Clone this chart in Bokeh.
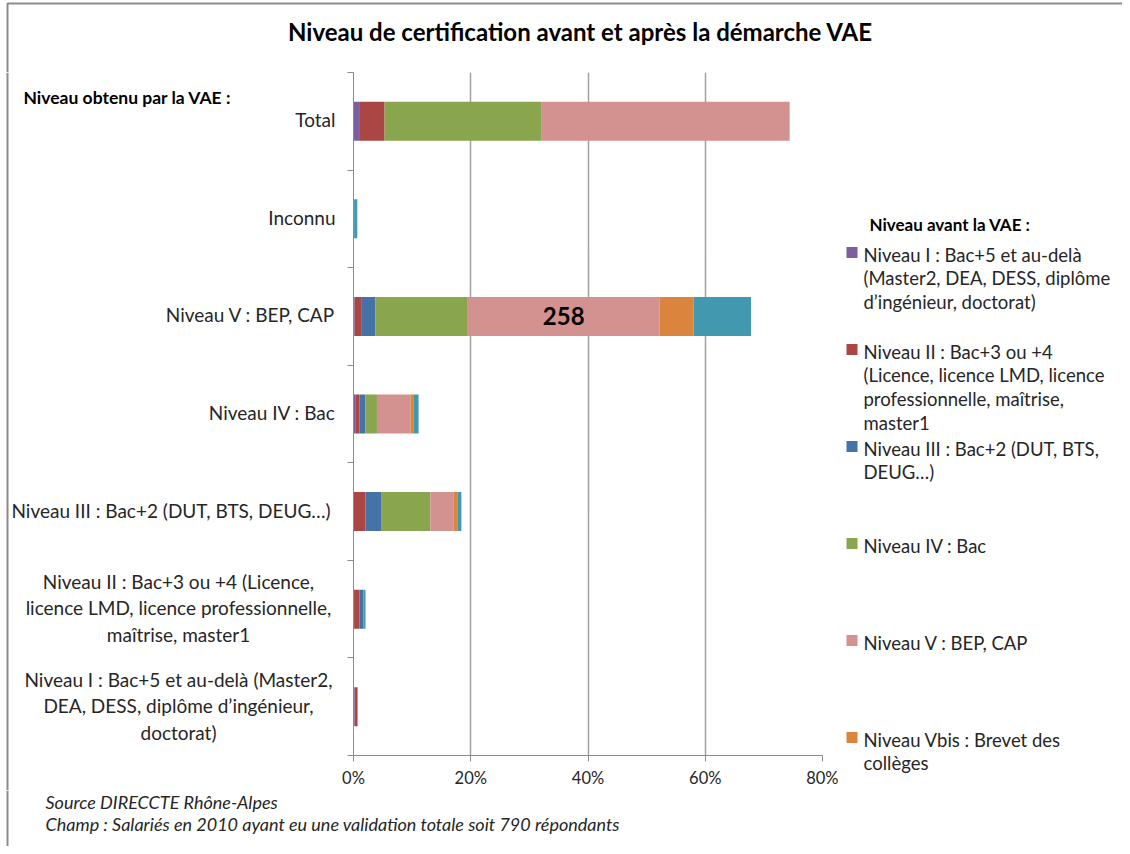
from bokeh.plotting import figure
from bokeh.layouts import column, row
from bokeh.models import (Range1d, LinearAxis, FixedTicker, PrintfTickFormatter,
                          ColumnDataSource)
from bokeh.core.properties import value
from bokeh.embed import file_html
from bokeh.resources import INLINE

# ---------------- data ----------------
title_text = "Niveau de certification avant et après la démarche VAE"
y_title = "Niveau obtenu par la VAE :"
legend_title = "Niveau avant la VAE :"
footnotes = ["Source DIRECCTE Rhône-Alpes",
             "Champ : Salariés en 2010 ayant eu une validation totale soit 790 répondants"]

# categories, top to bottom as displayed
categories = [
    "Total",
    "Inconnu",
    "Niveau V : BEP, CAP",
    "Niveau IV : Bac",
    "Niveau III : Bac+2  (DUT, BTS, DEUG…)",
    "Niveau II : Bac+3 ou +4 (Licence,\nlicence LMD, licence professionnelle,\nmaîtrise, master1",
    "Niveau I : Bac+5 et au-delà (Master2,\nDEA, DESS, diplôme d’ingénieur,\ndoctorat)",
]

# share of respondents (%) by level before the VAE, aligned with categories
niv1 = [1.1, 0.0, 0.2, 0.3, 0.0, 0.1, 0.2]
niv2 = [4.2, 0.0, 1.1, 0.7, 2.05, 0.9, 0.5]
niv3 = [0.0, 0.1, 2.45, 1.0, 2.65, 0.7, 0.0]
niv4 = [26.7, 0.0, 15.75, 2.0, 8.4, 0.0, 0.0]
niv5 = [42.4, 0.0, 32.7, 5.7, 3.95, 0.0, 0.0]
niv5bis = [0.0, 0.0, 5.8, 0.5, 0.75, 0.0, 0.0]
niv6 = [0.0, 0.55, 9.8, 0.9, 0.6, 0.35, 0.0]

series_keys = ["niv1", "niv2", "niv3", "niv4", "niv5", "niv5bis", "niv6"]
series_labels = [
    "Niveau I : Bac+5 et au-delà\n(Master2, DEA, DESS, diplôme\nd’ingénieur, doctorat)",
    "Niveau II : Bac+3 ou +4\n(Licence, licence LMD, licence\nprofessionnelle, maîtrise,\nmaster1",
    "Niveau III : Bac+2  (DUT, BTS,\nDEUG…)",
    "Niveau IV : Bac",
    "Niveau V : BEP, CAP",
    "Niveau Vbis : Brevet des\ncollèges",
]
colors = ["#7D5FA0", "#AA4643", "#4572A7", "#89A54E", "#D39290", "#DB843D", "#4198AF"]

annot_value = 258
annot_category = "Niveau V : BEP, CAP"
annot_series = "niv5"

x_ticks = [0, 20, 40, 60, 80]

# ---------------- layout (page pixels) ----------------
W, H = 1122, 846
FL, FR, FT, FB = 353, 822, 72, 756     # plot frame
LW = 340                               # width of the category-label column
ROW_B = 790                            # bottom of the middle row
GX = 838                               # left edge of the legend column
N = len(categories)
XMAX = x_ticks[-1]
FONT = value("Lato")
TXT = "#262626"
BORDER = "#8c8c8c"


def Y(py):
    return (FB - py) / (FB - FT) * N


def blank(x0, y0, x1, y1, y_range=None):
    f = figure(width=x1 - x0, height=y1 - y0, output_backend="svg", toolbar_location=None,
               x_range=Range1d(x0, x1), y_range=y_range or Range1d(y1, y0),
               x_axis_location=None, y_axis_location=None, min_border=0,
               frame_align=False)
    f.outline_line_color = None
    f.grid.visible = False
    f.background_fill_color = "white"
    f.border_fill_color = "white"
    return f


ypos = [N - i - 0.5 for i in range(N)]
lift = 2 * N / (FB - FT)   # 2px optical lift for the category labels

# ---- title strip ----
top = blank(0, 0, W, FT)
top.text(x=[580], y=[31], text=[title_text], text_align="center", text_baseline="middle",
         text_font=FONT, text_font_size="24px", text_font_style="bold", text_color="#000000")
top.line(x=[7, 7, W], y=[FT, 3, 3], line_color=BORDER, line_width=2)

# ---- category label column ----
left = blank(0, FT, LW, ROW_B, y_range=Range1d(Y(ROW_B), Y(FT)))
single = [(c, y + lift) for c, y in zip(categories, ypos) if "\n" not in c]
multi = [(c, y + lift) for c, y in zip(categories, ypos) if "\n" in c]
left.text(x=[335] * len(single), y=[y for _, y in single], text=[c for c, _ in single],
          text_align="right", text_baseline="middle", text_font=FONT,
          text_font_size="19px", text_color=TXT)
left.text(x=[178] * len(multi), y=[y for _, y in multi], text=[c for c, _ in multi],
          text_align="center", text_baseline="middle", text_font=FONT,
          text_font_size="19px", text_color=TXT, text_line_height=1.15)
left.text(x=[23], y=[Y(97)], text=[y_title], text_align="left", text_baseline="middle",
          text_font=FONT, text_font_size="17.5px", text_font_style="bold", text_color="#000000")
left.line(x=[7, 7], y=[Y(ROW_B), Y(FT)], line_color=BORDER, line_width=2)

# ---- main chart ----
p = figure(width=GX - LW, height=ROW_B - FT, output_backend="svg", toolbar_location=None,
           x_range=Range1d(0, XMAX), y_range=Range1d(0, N), y_axis_location=None,
           min_border_left=FL - LW, min_border_right=GX - FR,
           min_border_top=0, min_border_bottom=ROW_B - FB, frame_align=False)
p.outline_line_color = None
p.background_fill_color = "white"
p.border_fill_color = "white"

data = {"cat": categories, "y": ypos}
for k, vals in zip(series_keys, [niv1, niv2, niv3, niv4, niv5, niv5bis, niv6]):
    data[k] = vals
src = ColumnDataSource(data)
p.hbar_stack(series_keys, y="y", height=0.4, color=colors, line_color=None, source=src)

xa = p.xaxis[0]
xa.ticker = FixedTicker(ticks=x_ticks)
xa.formatter = PrintfTickFormatter(format="%d%%")
xa.axis_line_color = BORDER
xa.major_tick_line_color = BORDER
xa.major_tick_in = 0
xa.major_tick_out = 6
xa.minor_tick_line_color = None
xa.major_label_text_font = "Lato"
xa.major_label_text_font_size = "16.5px"
xa.major_label_text_color = TXT
xa.major_label_standoff = 6

ya = LinearAxis(ticker=FixedTicker(ticks=list(range(N + 1))),
                major_label_text_font_size="0px", major_label_text_color=None,
                major_tick_in=0, major_tick_out=6, minor_tick_line_color=None,
                axis_line_color=BORDER, major_tick_line_color=BORDER, major_label_standoff=0)
p.add_layout(ya, "left")

p.xgrid.ticker = FixedTicker(ticks=x_ticks[1:])
p.xgrid.grid_line_color = "#a0a0a0"
p.xgrid.grid_line_width = 1.5
p.ygrid.grid_line_color = None

ri = categories.index(annot_category)
si = series_keys.index(annot_series)
before = sum(data[k][ri] for k in series_keys[:si])
p.text(x=[before + data[annot_series][ri] / 2], y=[ypos[ri]], text=[str(annot_value)],
       text_align="center", text_baseline="middle", text_font=FONT, text_font_size="24px",
       text_font_style="bold", text_color="#000000")

# ---- legend column ----
leg = blank(GX, FT, W, ROW_B)
leg.text(x=[869], y=[224], text=[legend_title], text_align="left", text_baseline="middle",
         text_font=FONT, text_font_size="17px", text_font_style="bold", text_color="#000000")
ny = len(series_labels)
first_line = [255 + 97 * k for k in range(ny)]
leg.rect(x=[851.5] * ny, y=[v - 3 for v in first_line], width=11, height=11,
         fill_color=colors[:ny], line_color=None)
leg.text(x=[863] * ny, y=[v - 12 for v in first_line], text=series_labels,
         text_align="left", text_baseline="top", text_font=FONT, text_font_size="18.5px",
         text_color=TXT, text_line_height=1.09)

# ---- footnote strip ----
bot = blank(0, ROW_B, W, H)
bot.text(x=[45, 45], y=[801, 823], text=footnotes, text_align="left", text_baseline="middle",
         text_font=FONT, text_font_size="18px", text_font_style="italic", text_color=TXT)
bot.line(x=[7, 7], y=[ROW_B, H], line_color=BORDER, line_width=2)

layout = column(top, row(left, p, leg), bot)
open("out.html", "w").write(file_html(layout, INLINE))
